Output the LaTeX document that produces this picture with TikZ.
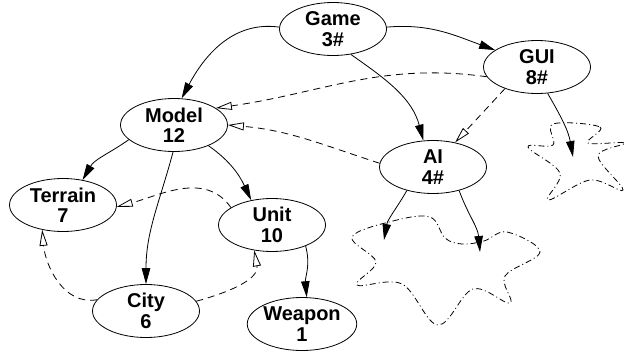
\documentclass[tikz,border=0pt]{standalone}
\usepackage{fontspec}
\setmainfont{Liberation Sans}
\usetikzlibrary{shapes.geometric,arrows.meta}
\begin{document}
\begin{tikzpicture}[x=1pt,y=-1pt,
  nd/.style={draw,ellipse,line width=0.8pt,minimum width=107pt,minimum height=53pt,inner sep=0pt,align=center,
    font=\fontsize{20}{20.5}\selectfont\bfseries},
  solid arrow/.style={line width=0.8pt,-{Triangle[length=16pt,width=8.5pt]}},
  dash arrow/.style={line width=0.8pt,dash pattern=on 7pt off 5pt,-{Triangle[open,length=16pt,width=8pt]}},
  starline/.style={line width=0.8pt,dash pattern=on 6pt off 3pt on 1pt off 3pt}]
\useasboundingbox (0,0) rectangle (625,354);
\node[nd] (game) at (333,29) {Game\\3\#};
\node[nd] (gui) at (537,67) {GUI\\8\#};
\node[nd] (ai) at (433,167) {AI\\4\#};
\node[nd] (model) at (174,125) {Model\\12};
\node[nd] (terrain) at (63,205) {Terrain\\7};
\node[nd] (unit) at (272,225) {Unit\\10};
\node[nd] (city) at (146,311) {City\\6};
\node[nd] (weapon) at (302,324) {Weapon\\1};
% stars
\draw[starline] plot[smooth cycle,tension=0.6] coordinates {
 (352,237) (393,221) (430,217) (445,238) (462,244) (484,241) (507,232)
 (540,252) (505,276) (510,303) (473,289) (438,325) (402,284) (357,285) (376,262)};
\draw[starline] plot[smooth cycle,tension=0.6] coordinates {
 (553,124) (600,127) (588,143) (625,143) (598,156) (623,190) (590,180)
 (548,200) (560,173) (528,147) (553,145)};
\coordinate (s2) at (573,157);
\coordinate (s1a) at (384,240);
\coordinate (s1b) at (480,252);
% solid edges
\draw[solid arrow] (game.178) to[out=172,in=62] (model.74);
\draw[solid arrow] (game.2) to[out=5,in=160] (gui.158);
\draw[solid arrow] (game.-55) to[out=-35,in=105] (ai.110);
\draw[solid arrow] (gui.-68) to[out=-60,in=100] (s2);
\draw[solid arrow] (ai.222) to[out=-120,in=80] (s1a);
\draw[solid arrow] (ai.-42) to[out=-70,in=95] (s1b);
\draw[solid arrow] (model.198) to[out=215,in=60] (terrain.52);
\draw[solid arrow] (model.-92) to[out=-105,in=90] (city.90);
\draw[solid arrow] (model.-31) to[out=-35,in=115] (unit.130);
\draw[solid arrow] (unit.-32) to[out=-75,in=95] (weapon.80);
% dashed edges
\draw[dash arrow] (gui.191) to[out=172,in=8] (model.22);
\draw[dash arrow] (gui.214) -- (ai.48);
\draw[dash arrow] (ai.176) to[out=162,in=-5] (model.0);
\draw[dash arrow] (unit.157) to[out=125,in=15] (terrain.-2);
\draw[dash arrow] (city.167) to[out=190,in=-85] (terrain.-130);
\draw[dash arrow] (city.11) to[out=15,in=-80] (unit.-125);
\end{tikzpicture}
\end{document}
